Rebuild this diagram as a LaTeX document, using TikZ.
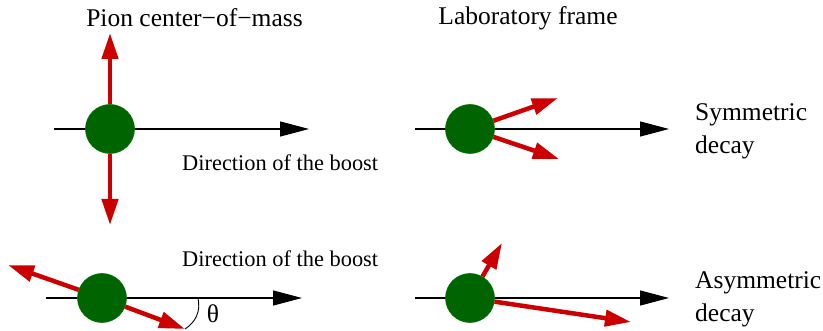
\documentclass[tikz,border=0pt]{standalone}
\usepackage{fontspec}
\setmainfont{Liberation Serif}
\usetikzlibrary{arrows.meta}

\definecolor{pired}{RGB}{204,0,0}
\definecolor{pigreen}{RGB}{0,100,0}

\newcommand*{\bigtext}{\fontsize{25.5}{33}\selectfont}
\newcommand*{\smalltext}{\fontsize{22.4}{27}\selectfont}

\begin{document}
\begin{tikzpicture}
[
	x=1pt,y=1pt,
	ball/.style={circle,fill=pigreen,draw=green!45!black,line width=0.6pt,inner sep=0pt,minimum size=49pt},
	boostaxis/.style={line width=1.3pt,-{Triangle[length=29pt,width=15pt]}},
	redarrow/.style={draw=pired,line width=4.5pt,-{Triangle[length=26pt,width=16pt,fill=pired]}},
	label/.style={font=\bigtext,inner sep=0pt}
]
	\useasboundingbox (0,0) rectangle (823,-331);

	% titles
	\node[label] (cmtitle) at (194.5,-18) {Pion center−of−mass};
	\node[label] (labtitle) at (528,-18) {Laboratory frame};

	% axes (drawn before the balls)
	\coordinate (a1) at (54,-129);  \coordinate (b1) at (309,-129);
	\coordinate (a2) at (46,-298);  \coordinate (b2) at (302,-298);
	\coordinate (a3) at (415,-129); \coordinate (b3) at (669,-129);
	\coordinate (a4) at (415,-298); \coordinate (b4) at (669,-298);
	\foreach \i in {1,...,4} {
		\draw[boostaxis] (a\i) -- (b\i);
	}

	% pions
	\node[ball] (pi1) at (110,-129) {};
	\node[ball] (pi2) at (102,-298) {};
	\node[ball] (pi3) at (470,-129) {};
	\node[ball] (pi4) at (470,-298) {};

	% photon end points
	\coordinate (g1u) at (110,-33);
	\coordinate (g1d) at (110,-225);
	\coordinate (g2u) at (8,-265);
	\coordinate (g2d) at (185,-329);
	\coordinate (g3u) at (558,-98);
	\coordinate (g3d) at (559,-159);
	\coordinate (g4u) at (502,-243);
	\coordinate (g4d) at (631,-322);

	% photons
	\foreach \i in {1,...,4} {
		\draw[redarrow] (pi\i) -- (g\i u);
		\draw[redarrow] (pi\i) -- (g\i d);
	}

	% angle
	\coordinate (thetaend) at (198,-298);
	\draw[line width=0.9pt] (g2d) to[bend right=35] (thetaend);
	\node[label] (theta) at (213,-314) {θ};

	% boost labels
	\node[font=\smalltext,inner sep=0pt,anchor=west] (boost1) at (182,-163) {Direction of the boost};
	\node[font=\smalltext,inner sep=0pt,anchor=west] (boost2) at (182,-259) {Direction of the boost};

	% decay labels
	\node[label,align=left,anchor=west] (sym) at (695,-131) {Symmetric\\decay};
	\node[label,align=left,anchor=west] (asym) at (695,-299) {Asymmetric\\decay};

\end{tikzpicture}
\end{document}
